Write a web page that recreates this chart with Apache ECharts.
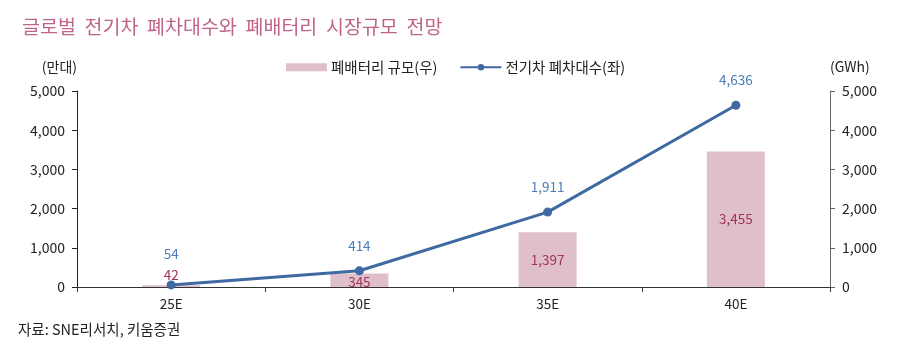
<!DOCTYPE html>
<html><head><meta charset="utf-8">
<script src="https://cdn.jsdelivr.net/npm/echarts@6/dist/echarts.min.js"></script>
<style>html,body{margin:0;padding:0;background:#fff}#c{width:917px;height:361px}</style>
</head><body><div id="c"></div>
<script>
const categories = ['25E', '30E', '35E', '40E'];
const batteryGWh = [42, 345, 1397, 3455];
const evScrapped = [54, 414, 1911, 4636];
const axisTicks = [0, 1000, 2000, 3000, 4000, 5000];

const FONT = '"Noto Sans CJK KR", "Noto Sans", sans-serif';
const fmt = v => v.toLocaleString('en-US');
const chart = echarts.init(document.getElementById('c'));
chart.setOption({
  animation: false,
  textStyle: { fontFamily: FONT },
  title: {
    text: '글로벌  전기차  폐차대수와  폐배터리  시장규모  전망',
    left: 17, top: 12,
    textStyle: { color: '#c0638a', fontSize: 19.5, fontWeight: 'normal', fontFamily: FONT }
  },
  graphic: [{
    type: 'text', left: 18, top: 322,
    style: { text: '자료: SNE리서치, 키움증권', fill: '#222', fontSize: 14.5, fontFamily: FONT }
  }],
  legend: {
    top: 55, left: 281, itemGap: 22, itemWidth: 41, itemHeight: 8,
    textStyle: { color: '#222', fontSize: 14.5, fontFamily: FONT, padding: [0, 0, 0, -1] },
    data: [
      { name: '폐배터리 규모(우)', icon: 'rect' },
      { name: '전기차 폐차대수(좌)' }
    ]
  },
  grid: { left: 77, right: 87, top: 91, bottom: 74 },
  xAxis: {
    type: 'category', data: categories,
    axisLine: { lineStyle: { color: '#333', width: 1 } },
    axisTick: { show: true, alignWithLabel: false, length: 5, lineStyle: { color: '#333' } },
    axisLabel: { color: '#222', fontSize: 13.5, margin: 10, fontFamily: FONT }
  },
  yAxis: [{
    type: 'value', min: axisTicks[0], max: axisTicks[axisTicks.length - 1], interval: 1000, position: 'left',
    name: '(만대)', nameLocation: 'end', nameGap: 17,
    nameTextStyle: { color: '#222', fontSize: 14, align: 'right', padding: [0, 0, 0, 0], fontFamily: FONT },
    axisLine: { show: true, lineStyle: { color: '#222' } },
    axisTick: { show: true, length: 5, lineStyle: { color: '#222' } },
    splitLine: { show: false },
    axisLabel: { color: '#222', fontSize: 14, margin: 12, fontFamily: FONT, formatter: fmt }
  }, {
    type: 'value', min: axisTicks[0], max: axisTicks[axisTicks.length - 1], interval: 1000, position: 'right',
    name: '(GWh)', nameLocation: 'end', nameGap: 17,
    nameTextStyle: { color: '#222', fontSize: 14, align: 'left', fontFamily: FONT },
    axisLine: { show: true, lineStyle: { color: '#666' } },
    axisTick: { show: true, inside: false, length: 5, lineStyle: { color: '#666' } },
    splitLine: { show: false },
    axisLabel: { color: '#222', fontSize: 14, margin: 12, fontFamily: FONT, formatter: fmt }
  }],
  series: [{
    name: '폐배터리 규모(우)', type: 'bar', yAxisIndex: 1, barWidth: 58,
    itemStyle: { color: '#dfbfcc' },
    data: batteryGWh.map((v, i) => ({
      value: v,
      label: {
        show: true, position: i === 0 ? 'top' : 'inside', distance: 4,
        color: '#a33358', fontSize: 13.5, fontFamily: FONT,
        offset: i === 1 ? [0, 2] : [0, 0],
        formatter: p => fmt(p.value)
      }
    }))
  }, {
    name: '전기차 폐차대수(좌)', type: 'line', yAxisIndex: 0,
    symbol: 'circle', symbolSize: 9,
    lineStyle: { color: '#3f6aa1', width: 3 },
    itemStyle: { color: '#3f6aa1' },
    data: evScrapped.map((v, i) => ({
      value: v,
      label: {
        show: true, position: 'top', distance: i === 0 ? 20 : 14,
        color: '#4c7db8', fontSize: 13.5, fontFamily: FONT,
        formatter: p => fmt(p.value)
      }
    }))
  }]
});
</script></body></html>
